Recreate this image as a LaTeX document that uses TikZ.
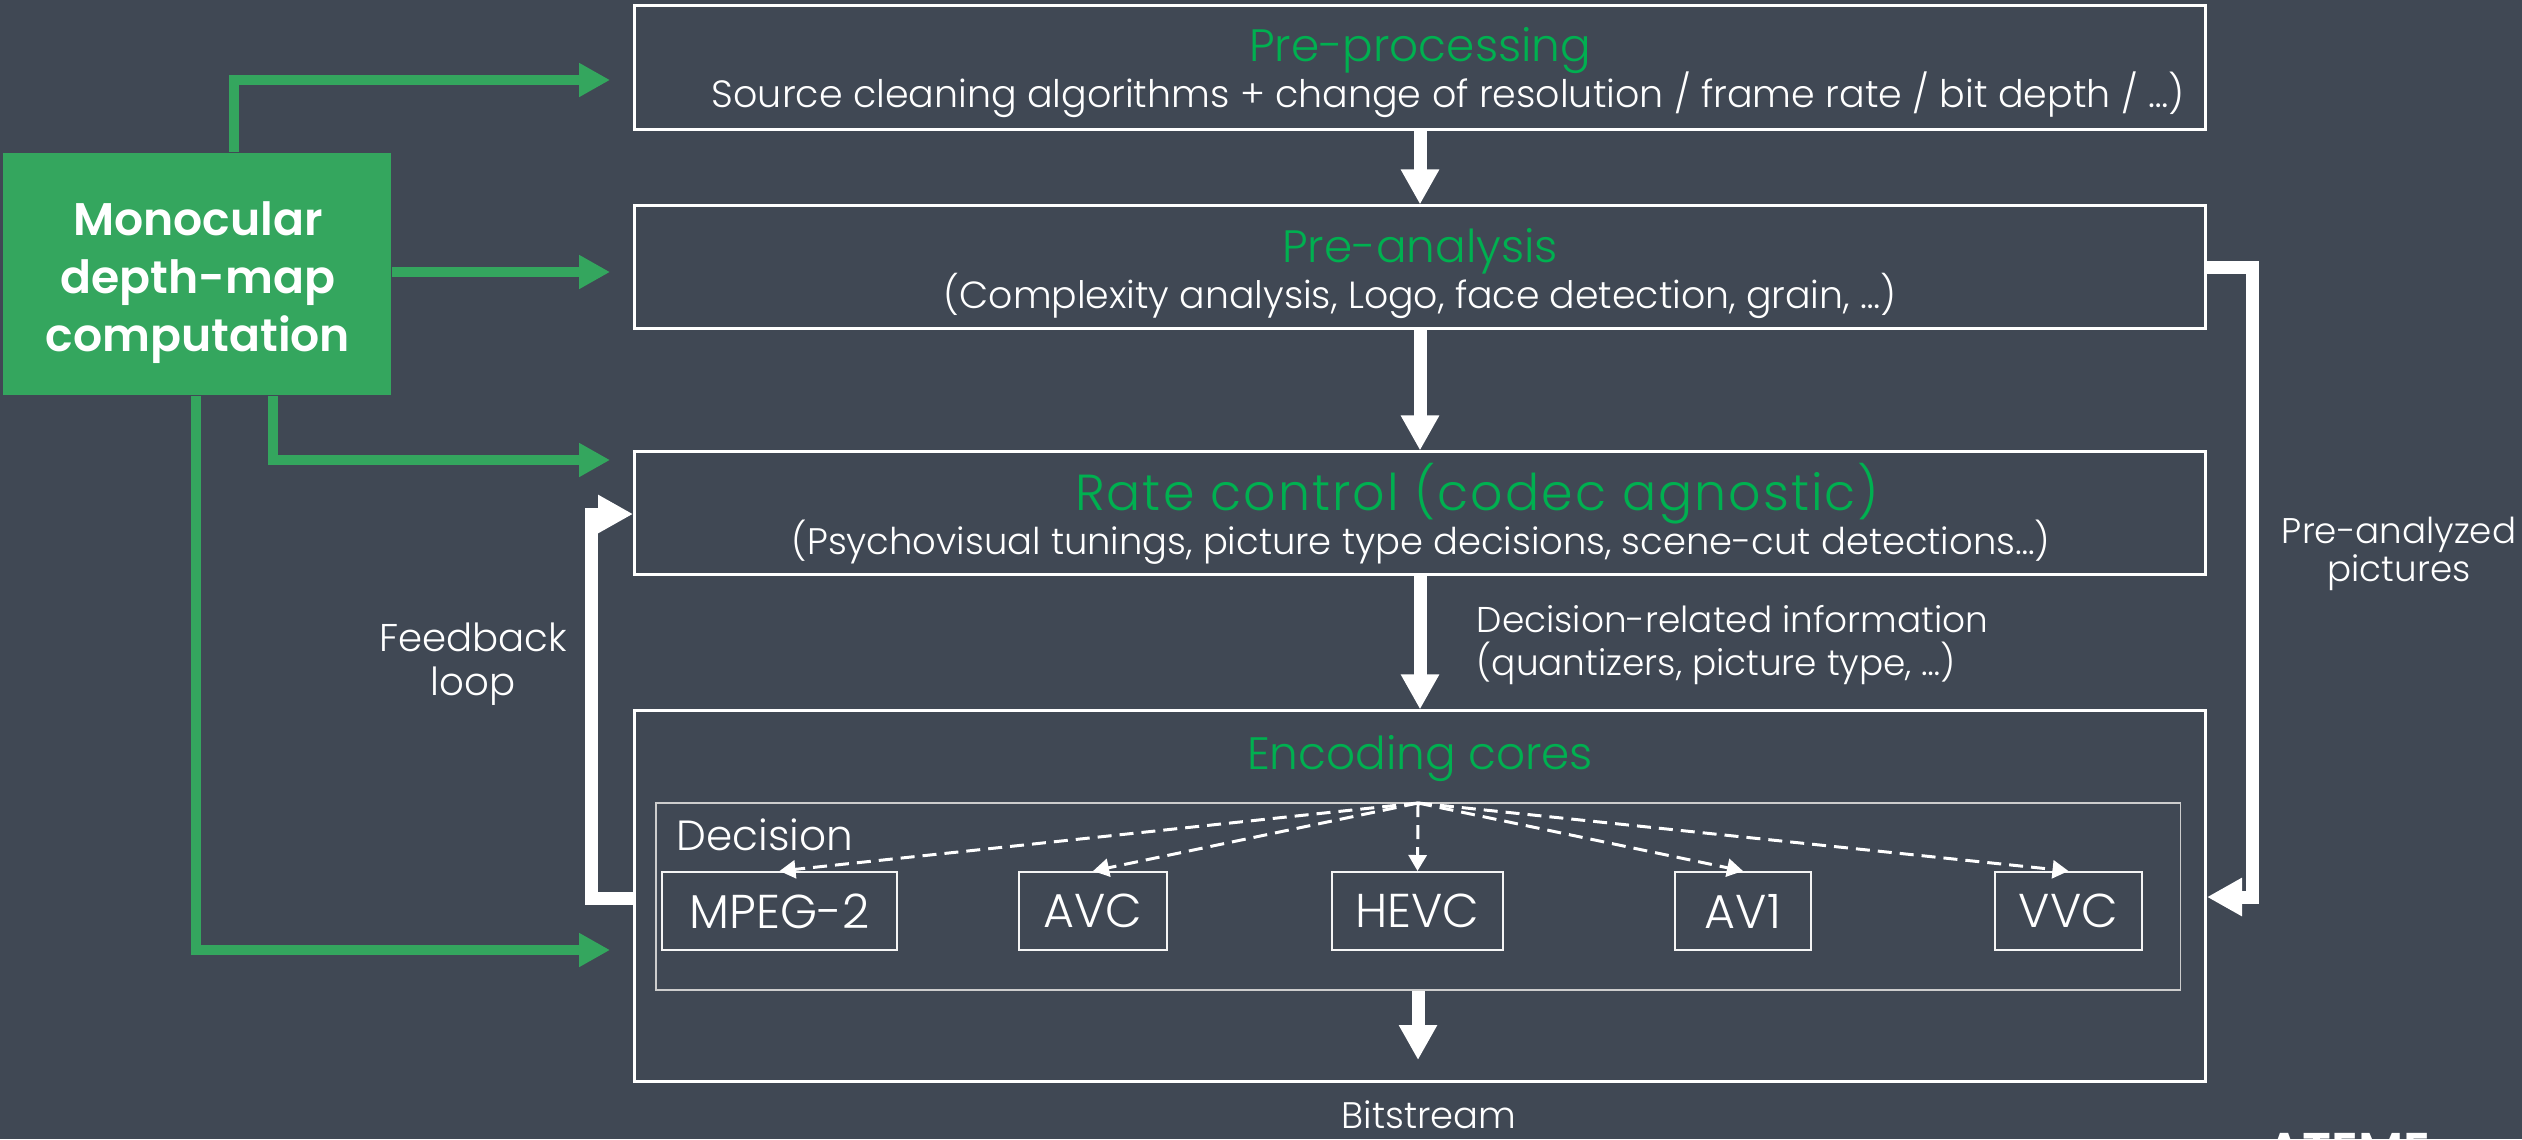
\documentclass[tikz,border=0pt]{standalone}
\usepackage{fontspec}
\IfFontExistsTF{Poppins Light}
  {\IfFontExistsTF{Poppins SemiBold}
     {\setmainfont{Poppins}[UprightFont=* Light, BoldFont=* SemiBold]}
     {\setmainfont{Poppins}[UprightFont=* Light]}}
  {\setmainfont{Poppins}}
\usetikzlibrary{arrows.meta,calc}

\definecolor{bgslate}{RGB}{64,72,84}
\definecolor{gbox}{RGB}{52,166,94}
\definecolor{gtitle}{RGB}{0,176,80}
\definecolor{decgray}{RGB}{205,205,205}

\begin{document}
\begin{tikzpicture}[x=0.01cm,y=-0.01cm,
  stagebox/.style={draw=white, line width=0.85pt, minimum width=15.7cm, inner sep=0pt},
  decbox/.style={draw=decgray, line width=0.55pt, inner sep=0pt},
  codecbox/.style={draw=white!92!gray, line width=0.55pt, inner sep=0pt,
    minimum height=0.78cm, text=white, font=\fontsize{13.5}{16}\selectfont},
  ttl/.style={text=gtitle, inner sep=0pt, font=\fontsize{12.9}{16}\selectfont},
  sub/.style={text=white, inner sep=0pt, font=\fontsize{10.5}{12}\selectfont},
  lbl/.style={text=white, inner sep=0pt, font=\fontsize{10.5}{12}\selectfont},
  monotxt/.style={text=white, inner sep=0pt, font=\bfseries\fontsize{13}{16}\selectfont},
  garrow/.style={draw=gbox, line width=2.85pt, line join=miter,
    -{Triangle[length=0.31cm,width=0.32cm]}, shorten >=0.23cm},
  warrow/.style={draw=white, line width=3.7pt, line join=miter,
    -{Triangle[length=0.35cm,width=0.36cm]}},
  dasharrow/.style={draw=white, line width=0.85pt, dash pattern=on 0.14cm off 0.08cm,
    -{Triangle[length=0.16cm,width=0.18cm]}}
]
\useasboundingbox (0,0) rectangle (2522,1139);
\fill[bgslate] (0,0) rectangle (2522,1139);

% pipeline stages
\node[stagebox, minimum height=1.23cm] (pre)  at (1420,67.5) {};
\node[stagebox, minimum height=1.22cm] (pana) at (1420,267) {};
\node[stagebox, minimum height=1.22cm] (rc)   at (1420,513) {};
\node[stagebox, minimum height=3.70cm] (enc)  at (1420,896) {};

\node[ttl, anchor=base] (preT) at (1420,61) {Pre-processing};
\node[sub, anchor=base, font=\fontsize{10.8}{12}\selectfont] (preS) at (1448,107) {Source cleaning algorithms + change of resolution / frame rate / bit depth / …)};
\node[ttl, anchor=base] (panaT) at (1420,262) {Pre-analysis};
\node[sub, anchor=base, font=\fontsize{10.75}{12}\selectfont] (panaS) at (1420,308) {(Complexity analysis, Logo, face detection, grain, …)};
\node[ttl, anchor=base, font=\fontsize{14.4}{16}\selectfont\addfontfeatures{LetterSpace=4}] (rcT) at (1477,510) {Rate control (codec agnostic)};
\node[sub, anchor=base] (rcS) at (1421,554) {(Psychovisual tunings, picture type decisions, scene-cut detections…)};
\node[ttl, anchor=base] (encT) at (1420,769) {Encoding cores};

% decision block with the codec cores
\node[decbox, minimum width=15.24cm, minimum height=1.87cm] (dec) at (1418,896.5) {};
\node[lbl, anchor=base west, font=\fontsize{12}{14}\selectfont] (decT) at (676,850) {Decision};
\node[codecbox, minimum width=2.35cm] (mpeg) at (779.5,911) {MPEG-2};
\node[codecbox, minimum width=1.48cm] (avc)  at (1093,911) {AVC};
\node[codecbox, minimum width=1.71cm] (hevc) at (1417.5,911) {HEVC};
\node[codecbox, minimum width=1.36cm] (av1)  at (1743,911) {AV1};
\node[codecbox, minimum width=1.47cm] (vvc)  at (2068.5,911) {VVC};

\coordinate (fan) at (1418,803);
\draw[dasharrow] (fan) -- (mpeg.north);
\draw[dasharrow] (fan) -- (avc.north);
\draw[dasharrow] (fan) -- (hevc.north);
\draw[dasharrow] (fan) -- (av1.north);
\draw[dasharrow] (fan) -- (vvc.north);

% main flow
\draw[warrow] (pre.south) -- (pana.north);
\draw[warrow] (pana.south) -- (rc.north);
\draw[warrow] (rc.south) -- (enc.north);
\coordinate (bsend) at (1418,1060);
\draw[warrow] (dec.south) -- (bsend);
\node[lbl, anchor=base] (bits) at (1429,1128) {Bitstream};

\node[lbl, anchor=base west, font=\fontsize{10.2}{12}\selectfont] (dri1) at (1476,632) {Decision-related information};
\node[lbl, anchor=base west, font=\fontsize{10.2}{12}\selectfont] (dri2) at (1476,675) {(quantizers, picture type, …)};

% feedback loop and pre-analyzed pictures
\draw[warrow] (enc.west |- 0,898) -- (591,898) |- (rc.west |- 0,514);
\node[lbl, anchor=base, font=\fontsize{11}{13}\selectfont] (fb1) at (473,651) {Feedback};
\node[lbl, anchor=base, font=\fontsize{11}{13}\selectfont] (fb2) at (473,695) {loop};

\draw[warrow] (pana.east) -- (2252,267) |- (enc.east |- 0,897);
\node[lbl, anchor=base, font=\fontsize{10.15}{12}\selectfont] (pa1) at (2399,543) {Pre-analyzed};
\node[lbl, anchor=base, font=\fontsize{10.15}{12}\selectfont] (pa2) at (2399,581) {pictures};

% depth-map block
\node[fill=gbox, minimum width=3.88cm, minimum height=2.42cm, inner sep=0pt] (mono) at (197,274) {};
\node[monotxt, anchor=base] (m1) at (198,235) {Monocular};
\node[monotxt, anchor=base] (m2) at (198,293) {depth-map};
\node[monotxt, anchor=base] (m3) at (198,351) {computation};

\draw[garrow] (mono.north -| 234,0) |- (pre.west |- 0,80);
\draw[garrow] (mono.east |- 0,272) -- (pana.west |- 0,272);
\draw[garrow] (mono.south -| 273,0) |- (rc.west |- 0,460);
\draw[garrow] (mono.south -| 196,0) |- (enc.west |- 0,950);

% logo at the lower edge
\begin{scope}
  \clip (0,0) rectangle (2522,1139);
  \node[anchor=north west, inner sep=0pt, text=white, font=\bfseries\fontsize{14.3}{16}\selectfont] (logo) at (2266,1133) {ATEME};
\end{scope}
\end{tikzpicture}
\end{document}
